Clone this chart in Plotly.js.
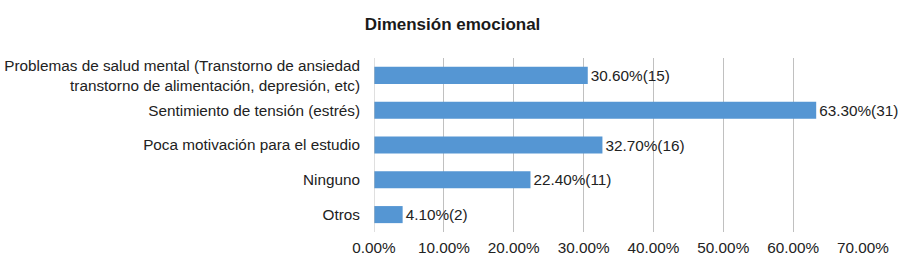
<!DOCTYPE html>
<html><head><meta charset="utf-8">
<script src="https://cdn.plot.ly/plotly-3.0.1.min.js"></script>
<style>html,body{margin:0;padding:0;background:#fff;}#chart{width:905px;height:268px;}</style>
</head><body><div id="chart"></div>
<script>
const categories = [
  "Otros",
  "Ninguno",
  "Poca motivación para el estudio",
  "Sentimiento de tensión (estrés)",
  "Problemas de salud mental (Transtorno de ansiedad<br>transtorno de alimentación, depresión, etc)"
];
const percents = [0.041, 0.224, 0.327, 0.633, 0.306];
const counts = [2, 11, 16, 31, 15];
const tickVals = [0, 0.1, 0.2, 0.3, 0.4, 0.5, 0.6, 0.7];

const FONT = 'Liberation Sans, Arial, sans-serif';
const trace = {
  type: 'bar', orientation: 'h',
  y: categories, x: percents,
  customdata: counts,
  texttemplate: '%{x:.2%}(%{customdata})',
  textposition: 'outside',
  cliponaxis: false,
  textfont: {family: FONT, size: 15.3, color: '#222'},
  marker: {color: '#5596d3', line: {width: 0}},
  hoverinfo: 'none'
};
const layout = {
  width: 905, height: 268,
  margin: {l: 374, r: 42, t: 57.5, b: 35.5},
  paper_bgcolor: '#fff', plot_bgcolor: '#fff',
  showlegend: false,
  bargap: 0.51,
  title: {text: '<b>Dimensión emocional</b>', x: 0.5, xanchor: 'center', y: 0.91, yanchor: 'middle',
    font: {family: FONT, size: 17, color: '#1a1a1a'}},
  xaxis: {range: [0, 0.7], tickvals: tickVals, tickformat: '.2%',
    showgrid: true, gridcolor: '#c0c0c0', gridwidth: 1, zeroline: false,
    showline: false, ticks: '', ticklabelstandoff: 5,
    tickfont: {family: FONT, size: 15.3, color: '#222'}},
  yaxis: {type: 'category', showgrid: false, zeroline: false, showline: false,
    ticks: '', ticklabelstandoff: 13,
    tickfont: {family: FONT, size: 15.3, color: '#222'}},
  shapes: [{type: 'line', xref: 'x', yref: 'paper', x0: 0, x1: 0, y0: 0, y1: 1,
    line: {color: '#c0c0c0', width: 1}}]
};
Plotly.newPlot('chart', [trace], layout, {staticPlot: true, displayModeBar: false});
</script></body></html>
